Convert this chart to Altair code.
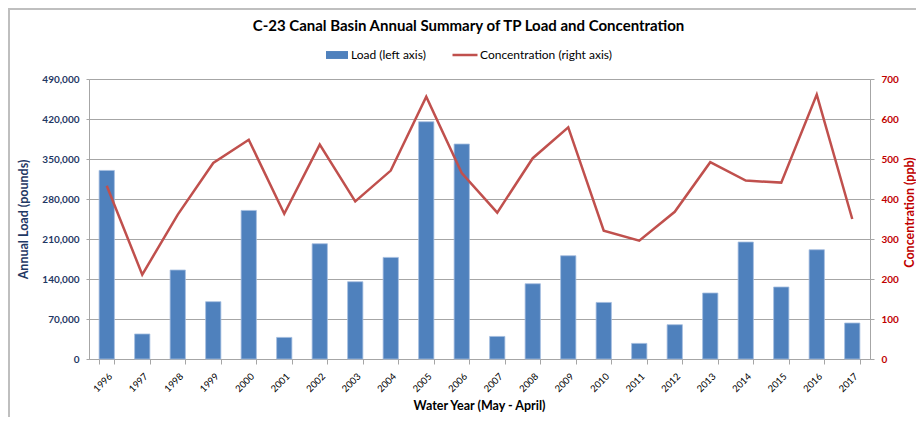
import altair as alt
import pandas as pd

years = [str(y) for y in range(1996, 2018)]
load_lbs = [330000, 43800, 155700, 100300, 260000, 37800, 201700, 135200, 177800,
            415200, 376200, 39500, 131700, 180700, 99000, 27300, 60000, 115500,
            204700, 126000, 191200, 63000]
conc_ppb = [433, 211, 361, 490, 548, 363, 536, 394, 471, 656, 465, 366, 502, 579,
            321, 296, 368, 492, 446, 441, 661, 350]
load_ticks = [0, 70000, 140000, 210000, 280000, 350000, 420000, 490000]
conc_ticks = [0, 100, 200, 300, 400, 500, 600, 700]

df = pd.DataFrame({"year": years, "load": load_lbs, "conc": conc_ppb})

FONT = "Lato"
NAVY = "#1F3864"
RED = "#C00000"
GRID = "#A6A6A6"

W, H = 781, 280

xenc = alt.X(
    "year:N",
    sort=years,
    scale=alt.Scale(paddingInner=0.57, paddingOuter=0.285),
    axis=alt.Axis(
        title="Water Year (May - April)",
        labelAngle=-45,
        labelFontSize=9.5,
        labelColor="#000000",
        labelFont=FONT,
        labelPadding=7,
        tickBand="extent",
        tickSize=5,
        tickColor=GRID,
        domainColor=GRID,
        titleFont=FONT,
        titleFontSize=12.5,
        titleFontWeight="bold",
        titleColor="#000000",
        titleX=390,
        titleY=46,
        titleBaseline="middle",
        titleAlign="center",
    ),
)

bars = alt.Chart(df).mark_bar(stroke="#A4BEDF", strokeWidth=0.8).encode(
    x=xenc,
    y=alt.Y(
        "load:Q",
        scale=alt.Scale(domain=[0, 490000], nice=False),
        axis=alt.Axis(
            values=load_ticks,
            format=",.0f",
            title="Annual Load (pounds)",
            labelColor=NAVY,
            labelFont=FONT,
            labelFontSize=10,
            labelFontWeight="bold",
            labelPadding=7,
            tickSize=3,
            tickColor=GRID,
            domainColor=GRID,
            grid=True,
            gridColor=GRID,
            gridWidth=1,
            titleColor=NAVY,
            titleFont=FONT,
            titleFontSize=12.5,
            titleFontWeight="bold",
            titleAngle=-90,
            titleX=-66,
            titleY=140,
            titleAlign="center",
            titleBaseline="middle",
        ),
    ),
    fill=alt.Fill(
        "lab:N",
        scale=alt.Scale(domain=["Load (left axis)"], range=["#4F81BD"]),
        legend=alt.Legend(
            title=None,
            orient="none",
            legendX=237,
            legendY=-35,
            padding=0,
            symbolType="M-1,-0.36H1V0.36H-1Z",
            symbolSize=484,
            symbolStrokeWidth=0,
            labelFont=FONT,
            labelFontSize=12,
            labelColor="#000000",
            labelOffset=3,
        ),
    ),
).transform_calculate(lab="'Load (left axis)'")

line = alt.Chart(df).mark_line(strokeWidth=2.5).encode(
    x=xenc,
    y=alt.Y(
        "conc:Q",
        scale=alt.Scale(domain=[0, 700], nice=False),
        axis=alt.Axis(
            orient="right",
            values=conc_ticks,
            format="d",
            title="Concentration (ppb)",
            labelColor=RED,
            labelFont=FONT,
            labelFontSize=10,
            labelFontWeight="bold",
            labelPadding=7,
            tickSize=4,
            tickColor=GRID,
            domainColor=GRID,
            grid=False,
            titleColor=RED,
            titleFont=FONT,
            titleFontSize=12.5,
            titleFontWeight="bold",
            titleAngle=-90,
            titleX=39,
            titleY=133,
            titleAlign="center",
            titleBaseline="middle",
        ),
    ),
    stroke=alt.Stroke(
        "lab:N",
        scale=alt.Scale(domain=["Concentration (right axis)"], range=["#C0504D"]),
        legend=alt.Legend(
            title=None,
            orient="none",
            legendX=362,
            legendY=-38,
            padding=0,
            symbolType="stroke",
            symbolSize=625,
            symbolStrokeWidth=2.5,
            labelFont=FONT,
            labelFontSize=12,
            labelColor="#000000",
            labelOffset=1,
        ),
    ),
).transform_calculate(lab="'Concentration (right axis)'")

frame_df = pd.DataFrame({"k": [0]})
frame_v = alt.Chart(frame_df).mark_rule(color="#BFBFBF", strokeWidth=2).encode(
    x=alt.value(-80), y=alt.value(-71), y2=alt.value(H + 60)
)
frame_h = alt.Chart(frame_df).mark_rule(color="#BFBFBF", strokeWidth=2).encode(
    x=alt.value(-81), x2=alt.value(W + 50), y=alt.value(-70)
)

chart = (
    alt.layer(frame_v, frame_h, bars, line)
    .resolve_scale(y="independent")
    .properties(
        width=W,
        height=H,
        autosize=alt.AutoSizeParams(type="none"),
        padding={"left": 81, "top": 71, "right": 46, "bottom": 58},
        title=alt.TitleParams(
            "C-23 Canal Basin Annual Summary of TP Load and Concentration",
            font=FONT,
            fontSize=15,
            fontWeight="bold",
            color="#000000",
            anchor="middle",
            dx=-11,
            dy=31,
        ),
    )
    .configure_view(stroke=None)
    .configure(background="white")
)

chart.save("out.html", embed_options={"renderer": "svg", "actions": False})
